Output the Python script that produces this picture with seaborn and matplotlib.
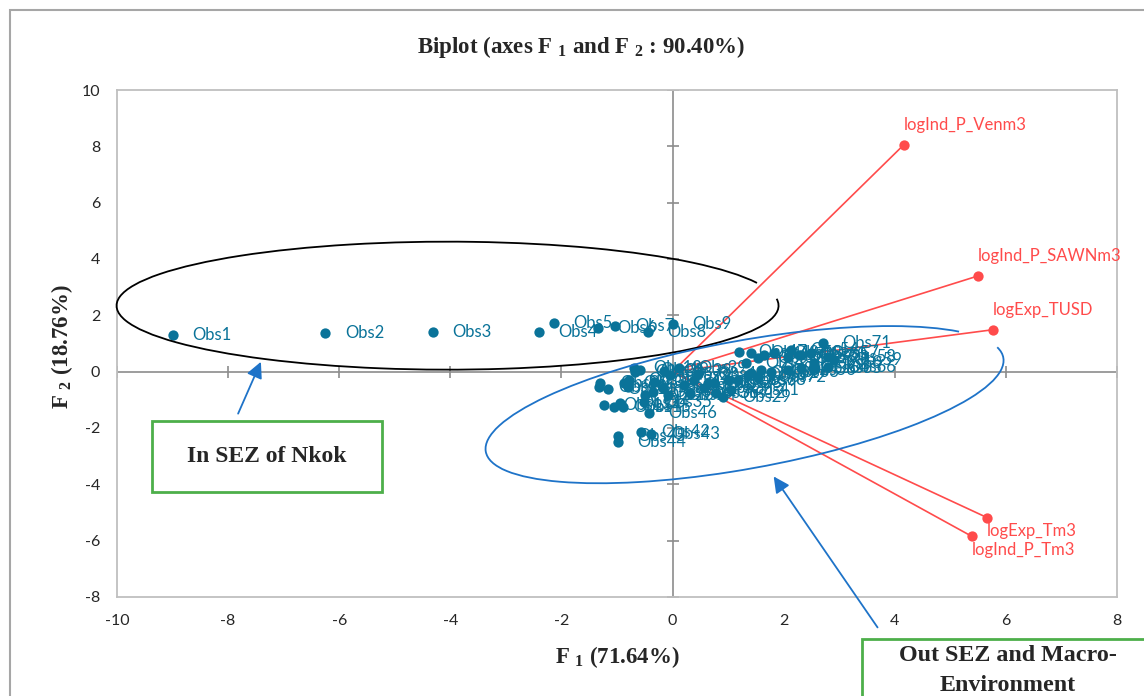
import numpy as np
import matplotlib
matplotlib.use("Agg")
import matplotlib.pyplot as plt
import matplotlib.transforms as mtransforms
from matplotlib.patches import Arc, Rectangle
import seaborn as sns

OBS_X = [-8.99, -6.25, -4.31, -2.41, -2.13, -1.35, -1.03, -0.45, 0.00,
         -1.33, -1.17, 0.79, -1.24, -1.06, -0.90, -0.81, -0.79, -0.70, -0.58,
         -0.49, -0.34, -0.18, -0.04, -0.09, 0.20, 0.38, 0.56, 0.74, 0.90,
         -1.30, -0.88, -0.67, -0.36, -0.94, -0.52, 0.32, 0.63, -0.16, 0.11,
         0.45, 1.05, -0.56, -0.38, -0.99, -0.99, -0.43, 1.19, 1.32, 1.41,
         1.53, 1.64, 1.82, 2.07, 2.13, 2.31, 2.07, 2.49, 2.79, 2.90, 2.54,
         1.41, 1.59, 1.77, 2.31, 2.54, 2.79, 0.99, 1.17, 1.35, 2.27, 2.70, 1.53]
OBS_Y = [1.31, 1.38, 1.42, 1.42, 1.74, 1.56, 1.63, 1.42, 1.70,
         -0.53, -0.60, -0.74, -1.17, -1.24, -1.24, -0.53, -0.28, 0.14, 0.07,
         -0.82, -0.35, -0.57, -0.11, -0.82, -0.46, -0.28, -0.57, -0.39, -0.89,
         -0.39, -0.39, 0.00, -0.71, -1.13, -1.06, -0.74, -0.39, 0.04, 0.14,
         -0.07, -0.64, -2.13, -2.20, -2.48, -2.27, -1.45, 0.71, 0.32, 0.67,
         0.50, 0.60, 0.67, 0.53, 0.78, 0.60, 0.07, 0.67, 0.53, 0.43, 0.32,
         -0.04, 0.07, 0.00, 0.14, 0.14, 0.18, -0.28, -0.28, -0.11, 0.60, 1.03, -0.18]
OBS_LABELS = ["Obs%d" % (i + 1) for i in range(len(OBS_X))]

# variable loadings (vectors)
VAR_NAMES = ["logInd_P_Venm3", "logInd_P_SAWNm3", "logExp_TUSD", "logExp_Tm3", "logInd_P_Tm3"]
VAR_X = [4.16, 5.50, 5.77, 5.66, 5.39]
VAR_Y = [8.05, 3.40, 1.49, -5.18, -5.85]
VAR_BELOW = [False, False, False, True, True]

X_TICKS = [-10, -8, -6, -4, -2, 0, 2, 4, 6, 8]
Y_TICKS = [-8, -6, -4, -2, 0, 2, 4, 6, 8, 10]

TEAL = "#0A7399"
RED = "#FF4B4B"
BLUE = "#1E73C8"
GREEN = "#4DAF4A"
SERIF = "Liberation Serif"

sns.set_style("white")
plt.rcParams["font.family"] = ["Lato", "DejaVu Sans"]
plt.rcParams["axes.unicode_minus"] = False
plt.rcParams["mathtext.fontset"] = "custom"
plt.rcParams["mathtext.bf"] = "Liberation Serif:bold"
plt.rcParams["mathtext.rm"] = "Liberation Serif"

W, H = 1144, 696
fig = plt.figure(figsize=(W / 100, H / 100), dpi=100)
fig.patch.set_facecolor("white")
ax = fig.add_axes([117 / W, 1 - 597 / H, 1000 / W, 507 / H])
ax.set_xlim(-10, 8)
ax.set_ylim(-8, 10)
ax.set_xticks(X_TICKS)
ax.set_yticks(Y_TICKS)
ax.tick_params(length=0, labelsize=11.5, pad=12)
for sp in ax.spines.values():
    sp.set_color("#BFBFBF")
    sp.set_linewidth(1.3)

# zero axes with small cross ticks
ax.axhline(0, color="#8C8C8C", lw=1.2, zorder=1)
ax.axvline(0, color="#8C8C8C", lw=1.2, zorder=1)
ax.plot(X_TICKS, [0] * len(X_TICKS), ls="none", marker="|", ms=9, mew=1.2, color="#8C8C8C", zorder=1)
ax.plot([0] * len(Y_TICKS), Y_TICKS, ls="none", marker="_", ms=9, mew=1.2, color="#8C8C8C", zorder=1)

# variable vectors
for vx, vy in zip(VAR_X, VAR_Y):
    ax.plot([0, vx], [0, vy], color=RED, lw=1.2, zorder=2)
sns.scatterplot(x=VAR_X, y=VAR_Y, color=RED, s=55, linewidth=0, ax=ax, zorder=4)
for name, vx, vy, below in zip(VAR_NAMES, VAR_X, VAR_Y, VAR_BELOW):
    ax.annotate(name, (vx, vy), xytext=(0, -10 if below else 14), textcoords="offset points",
                ha="left", va="center", color=RED, fontsize=12, zorder=5)

# observations
sns.scatterplot(x=OBS_X, y=OBS_Y, color=TEAL, s=55, linewidth=0, ax=ax, zorder=3)
for lab, ox, oy in zip(OBS_LABELS, OBS_X, OBS_Y):
    ax.annotate(lab, (ox, oy), xytext=(14, 0), textcoords="offset points",
                ha="left", va="center", color=TEAL, fontsize=12, zorder=3)

# hand-drawn ellipses, defined in pixel-like units around the origin
px = mtransforms.Affine2D().scale(18 / 1000, 18 / 507) + ax.transData
ax.add_patch(Arc((-225, 66), 662, 128, theta1=4.2, theta2=1.2, transform=px,
                 color="black", lw=1.3, clip_on=False, zorder=6))
ax.add_patch(Arc((72, -33), 526, 128, angle=10.3, theta1=8.5, theta2=2.5, transform=px,
                 color=BLUE, lw=1.3, clip_on=False, zorder=6))

# arrows
arrow = dict(arrowstyle="-|>", color=BLUE, lw=1.3, mutation_scale=24, shrinkA=0, shrinkB=0)
ax.annotate("", xy=(-7.41, 0.35), xytext=(-7.82, -1.49), arrowprops=arrow, annotation_clip=False, zorder=6)
ax.annotate("", xy=(1.82, -3.72), xytext=(3.69, -9.08), arrowprops=arrow, annotation_clip=False, zorder=6)

# annotation boxes
ax.add_patch(Rectangle((-9.37, -4.26), 4.14, 2.52, facecolor="white", edgecolor=GREEN,
                       lw=2, clip_on=False, zorder=7))
ax.text(-7.30, -3.01, "In SEZ of Nkok", ha="center", va="center", family=SERIF,
        fontweight="bold", fontsize=17, zorder=8)
ax.add_patch(Rectangle((3.41, -12.5), 6, 3.02, facecolor="white", edgecolor=GREEN,
                       lw=2, clip_on=False, zorder=7))
ax.text(6.04, -10.61, "Out SEZ and Macro-\nEnvironment", ha="center", va="center", family=SERIF,
        fontweight="bold", fontsize=17.3, linespacing=1.6, zorder=8, clip_on=False)

# titles
fig.text(581 / W, 1 - 47 / H, r"Biplot (axes F $_\mathbf{1}$ and F $_\mathbf{2}$ : 90.40%)",
         ha="center", va="center", family=SERIF, fontweight="bold", fontsize=16.5)
fig.text(617 / W, 1 - 657 / H, r"F $_\mathbf{1}$ (71.64%)", ha="center", va="center",
         family=SERIF, fontweight="bold", fontsize=16.5)
fig.text(62 / W, 1 - 347 / H, r"F $_\mathbf{2}$ (18.76%)", ha="center", va="center",
         rotation=90, family=SERIF, fontweight="bold", fontsize=16.5)

# chart-area border
fig.add_artist(Rectangle((10 / W, -0.1), 1.2, 1.1 - 10 / H, transform=fig.transFigure,
                         fill=False, edgecolor="#A6A6A6", lw=1.5))

fig.savefig("out.png", dpi=100)
